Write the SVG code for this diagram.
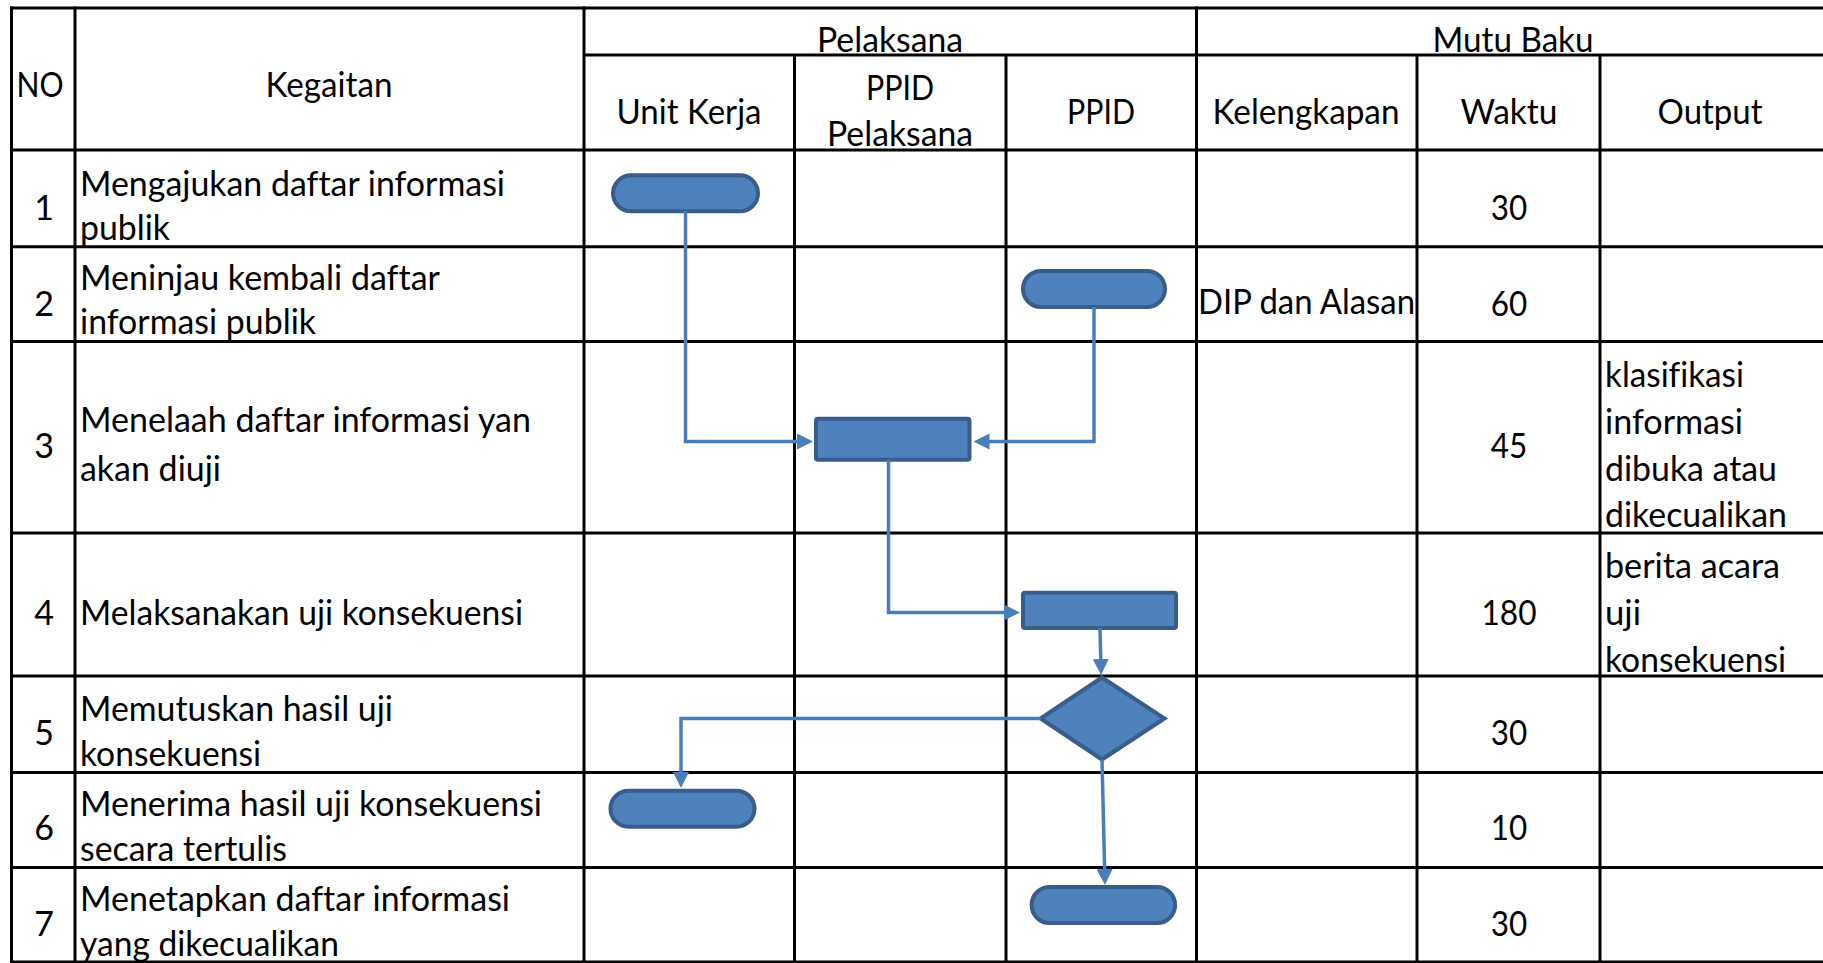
<svg xmlns="http://www.w3.org/2000/svg" width="1823" height="963" viewBox="0 0 1823 963">
<style>
  .g line { stroke:#000; stroke-width:3; }
  .t { font-family: Lato, "Liberation Sans", sans-serif; font-size:34px; fill:#000; font-variant-ligatures:none; font-feature-settings:"liga" 0; }
  .c { text-anchor:middle; }
  .shape { fill:#4F81BD; stroke:#385D8A; stroke-width:4; }
  .conn { fill:none; stroke:#4A7EBB; stroke-width:3.5; marker-end:url(#arr); }
</style>
<defs>
  <marker id="arr" markerUnits="userSpaceOnUse" markerWidth="16" markerHeight="16" viewBox="0 0 16 16" refX="3" refY="8" orient="auto">
    <path d="M0,0 L16,8 L0,16 z" fill="#4A7EBB"/>
  </marker>
</defs>
<rect width="1823" height="963" fill="#fff"/>

<g id="header">
  <text class="t c" x="40" y="97" textLength="47" lengthAdjust="spacingAndGlyphs">NO</text>
  <text class="t c" x="329" y="97" textLength="127" lengthAdjust="spacingAndGlyphs">Kegaitan</text>
  <text class="t c" x="890" y="52" textLength="146" lengthAdjust="spacingAndGlyphs">Pelaksana</text>
  <text class="t c" x="1513" y="52" textLength="161" lengthAdjust="spacingAndGlyphs">Mutu Baku</text>
  <text class="t c" x="689" y="123.5" textLength="145" lengthAdjust="spacingAndGlyphs">Unit Kerja</text>
  <text class="t c" x="900" y="100" textLength="68" lengthAdjust="spacingAndGlyphs">PPID</text>
  <text class="t c" x="900" y="146" textLength="146" lengthAdjust="spacingAndGlyphs">Pelaksana</text>
  <text class="t c" x="1101" y="123.5" textLength="68" lengthAdjust="spacingAndGlyphs">PPID</text>
  <text class="t c" x="1306" y="123.5" textLength="187" lengthAdjust="spacingAndGlyphs">Kelengkapan</text>
  <text class="t c" x="1509" y="123.5" textLength="97" lengthAdjust="spacingAndGlyphs">Waktu</text>
  <text class="t c" x="1710" y="123.5" textLength="105" lengthAdjust="spacingAndGlyphs">Output</text>
</g>

<g id="row1">
  <text class="t c" x="44" y="220">1</text>
  <text class="t" x="80" y="196" textLength="425" lengthAdjust="spacingAndGlyphs">Mengajukan daftar informasi</text>
  <text class="t" x="80" y="240" textLength="90" lengthAdjust="spacingAndGlyphs">publik</text>
  <text class="t c" x="1509" y="220" textLength="36.5" lengthAdjust="spacingAndGlyphs">30</text>
</g>
<g id="row2">
  <text class="t c" x="44" y="316">2</text>
  <text class="t" x="80" y="290" textLength="360" lengthAdjust="spacingAndGlyphs">Meninjau kembali daftar</text>
  <text class="t" x="80" y="334" textLength="236" lengthAdjust="spacingAndGlyphs">informasi publik</text>
  <text class="t" x="1198" y="314" textLength="217" lengthAdjust="spacingAndGlyphs">DIP dan Alasan</text>
  <text class="t c" x="1509" y="316" textLength="36.5" lengthAdjust="spacingAndGlyphs">60</text>
</g>
<g id="row3">
  <text class="t c" x="44" y="458">3</text>
  <text class="t" x="80" y="432" textLength="451" lengthAdjust="spacingAndGlyphs">Menelaah daftar informasi yan</text>
  <text class="t" x="80" y="481" textLength="141" lengthAdjust="spacingAndGlyphs">akan diuji</text>
  <text class="t c" x="1509" y="458" textLength="36.5" lengthAdjust="spacingAndGlyphs">45</text>
  <text class="t" x="1605" y="387" textLength="139" lengthAdjust="spacingAndGlyphs">klasifikasi</text>
  <text class="t" x="1605" y="433.5" textLength="138" lengthAdjust="spacingAndGlyphs">informasi</text>
  <text class="t" x="1605" y="481" textLength="172" lengthAdjust="spacingAndGlyphs">dibuka atau</text>
  <text class="t" x="1605" y="527" textLength="182" lengthAdjust="spacingAndGlyphs">dikecualikan</text>
</g>
<g id="row4">
  <text class="t c" x="44" y="625">4</text>
  <text class="t" x="80" y="625" textLength="443" lengthAdjust="spacingAndGlyphs">Melaksanakan uji konsekuensi</text>
  <text class="t c" x="1509" y="625" textLength="55" lengthAdjust="spacingAndGlyphs">180</text>
  <text class="t" x="1605" y="578" textLength="175" lengthAdjust="spacingAndGlyphs">berita acara</text>
  <text class="t" x="1605" y="625" textLength="36" lengthAdjust="spacingAndGlyphs">uji</text>
  <text class="t" x="1605" y="672" textLength="181" lengthAdjust="spacingAndGlyphs">konsekuensi</text>
</g>
<g id="row5">
  <text class="t c" x="44" y="745">5</text>
  <text class="t" x="80" y="721" textLength="313" lengthAdjust="spacingAndGlyphs">Memutuskan hasil uji</text>
  <text class="t" x="80" y="766" textLength="181" lengthAdjust="spacingAndGlyphs">konsekuensi</text>
  <text class="t c" x="1509" y="745" textLength="36.5" lengthAdjust="spacingAndGlyphs">30</text>
</g>
<g id="row6">
  <text class="t c" x="44" y="840">6</text>
  <text class="t" x="80" y="816" textLength="462" lengthAdjust="spacingAndGlyphs">Menerima hasil uji konsekuensi</text>
  <text class="t" x="80" y="861" textLength="207" lengthAdjust="spacingAndGlyphs">secara tertulis</text>
  <text class="t c" x="1509" y="840" textLength="36.5" lengthAdjust="spacingAndGlyphs">10</text>
</g>
<g id="row7">
  <text class="t c" x="44" y="936">7</text>
  <text class="t" x="80" y="911" textLength="430" lengthAdjust="spacingAndGlyphs">Menetapkan daftar informasi</text>
  <text class="t" x="80" y="956" textLength="259" lengthAdjust="spacingAndGlyphs">yang dikecualikan</text>
  <text class="t c" x="1509" y="936" textLength="36.5" lengthAdjust="spacingAndGlyphs">30</text>
</g>

<g id="table-grid" class="g">
  <line x1="10" y1="8" x2="1823" y2="8"/>
  <line x1="584" y1="55" x2="1823" y2="55"/>
  <line x1="10" y1="150" x2="1823" y2="150"/>
  <line x1="10" y1="246.7" x2="1823" y2="246.7"/>
  <line x1="10" y1="341.5" x2="1823" y2="341.5"/>
  <line x1="10" y1="533" x2="1823" y2="533"/>
  <line x1="10" y1="676" x2="1823" y2="676"/>
  <line x1="10" y1="772.5" x2="1823" y2="772.5"/>
  <line x1="10" y1="867.5" x2="1823" y2="867.5"/>
  <line x1="10" y1="962" x2="1823" y2="962"/>
  <line x1="11.5" y1="6.5" x2="11.5" y2="963"/>
  <line x1="75" y1="6.5" x2="75" y2="963"/>
  <line x1="584" y1="6.5" x2="584" y2="963"/>
  <line x1="794.5" y1="55" x2="794.5" y2="963"/>
  <line x1="1006" y1="55" x2="1006" y2="963"/>
  <line x1="1196.5" y1="6.5" x2="1196.5" y2="963"/>
  <line x1="1417" y1="55" x2="1417" y2="963"/>
  <line x1="1600" y1="55" x2="1600" y2="963"/>
</g>

<g id="n1-unit-kerja-start"><rect class="shape" x="613" y="175.3" width="145" height="36" rx="18"/></g>
<g id="n2-ppid-start"><rect class="shape" x="1023" y="271" width="142" height="36" rx="18"/></g>
<g id="n3-telaah"><rect class="shape" x="816" y="418.7" width="153.5" height="41" rx="2"/></g>
<g id="n4-uji"><rect class="shape" x="1023" y="592.7" width="153" height="35.3" rx="2"/></g>
<g id="n5-keputusan"><polygon class="shape" points="1102,677.5 1164.5,718.5 1102,759.5 1040.5,718.5"/></g>
<g id="n6-terima"><rect class="shape" x="610.5" y="790.7" width="144" height="36" rx="18"/></g>
<g id="n7-tetapkan"><rect class="shape" x="1031.6" y="887" width="143.5" height="36" rx="18"/></g>

<g id="connectors">
  <path class="conn" d="M685.5 211 V441.5 H800"/>
  <path class="conn" d="M1094 307 V441.5 H986.5"/>
  <path class="conn" d="M888.5 459.7 V612.5 H1007"/>
  <path class="conn" d="M1100 628 L1100.8 662"/>
  <path class="conn" d="M1040.5 718.5 H681 V775"/>
  <path class="conn" d="M1102 759.5 L1104.7 872"/>
</g>
</svg>
